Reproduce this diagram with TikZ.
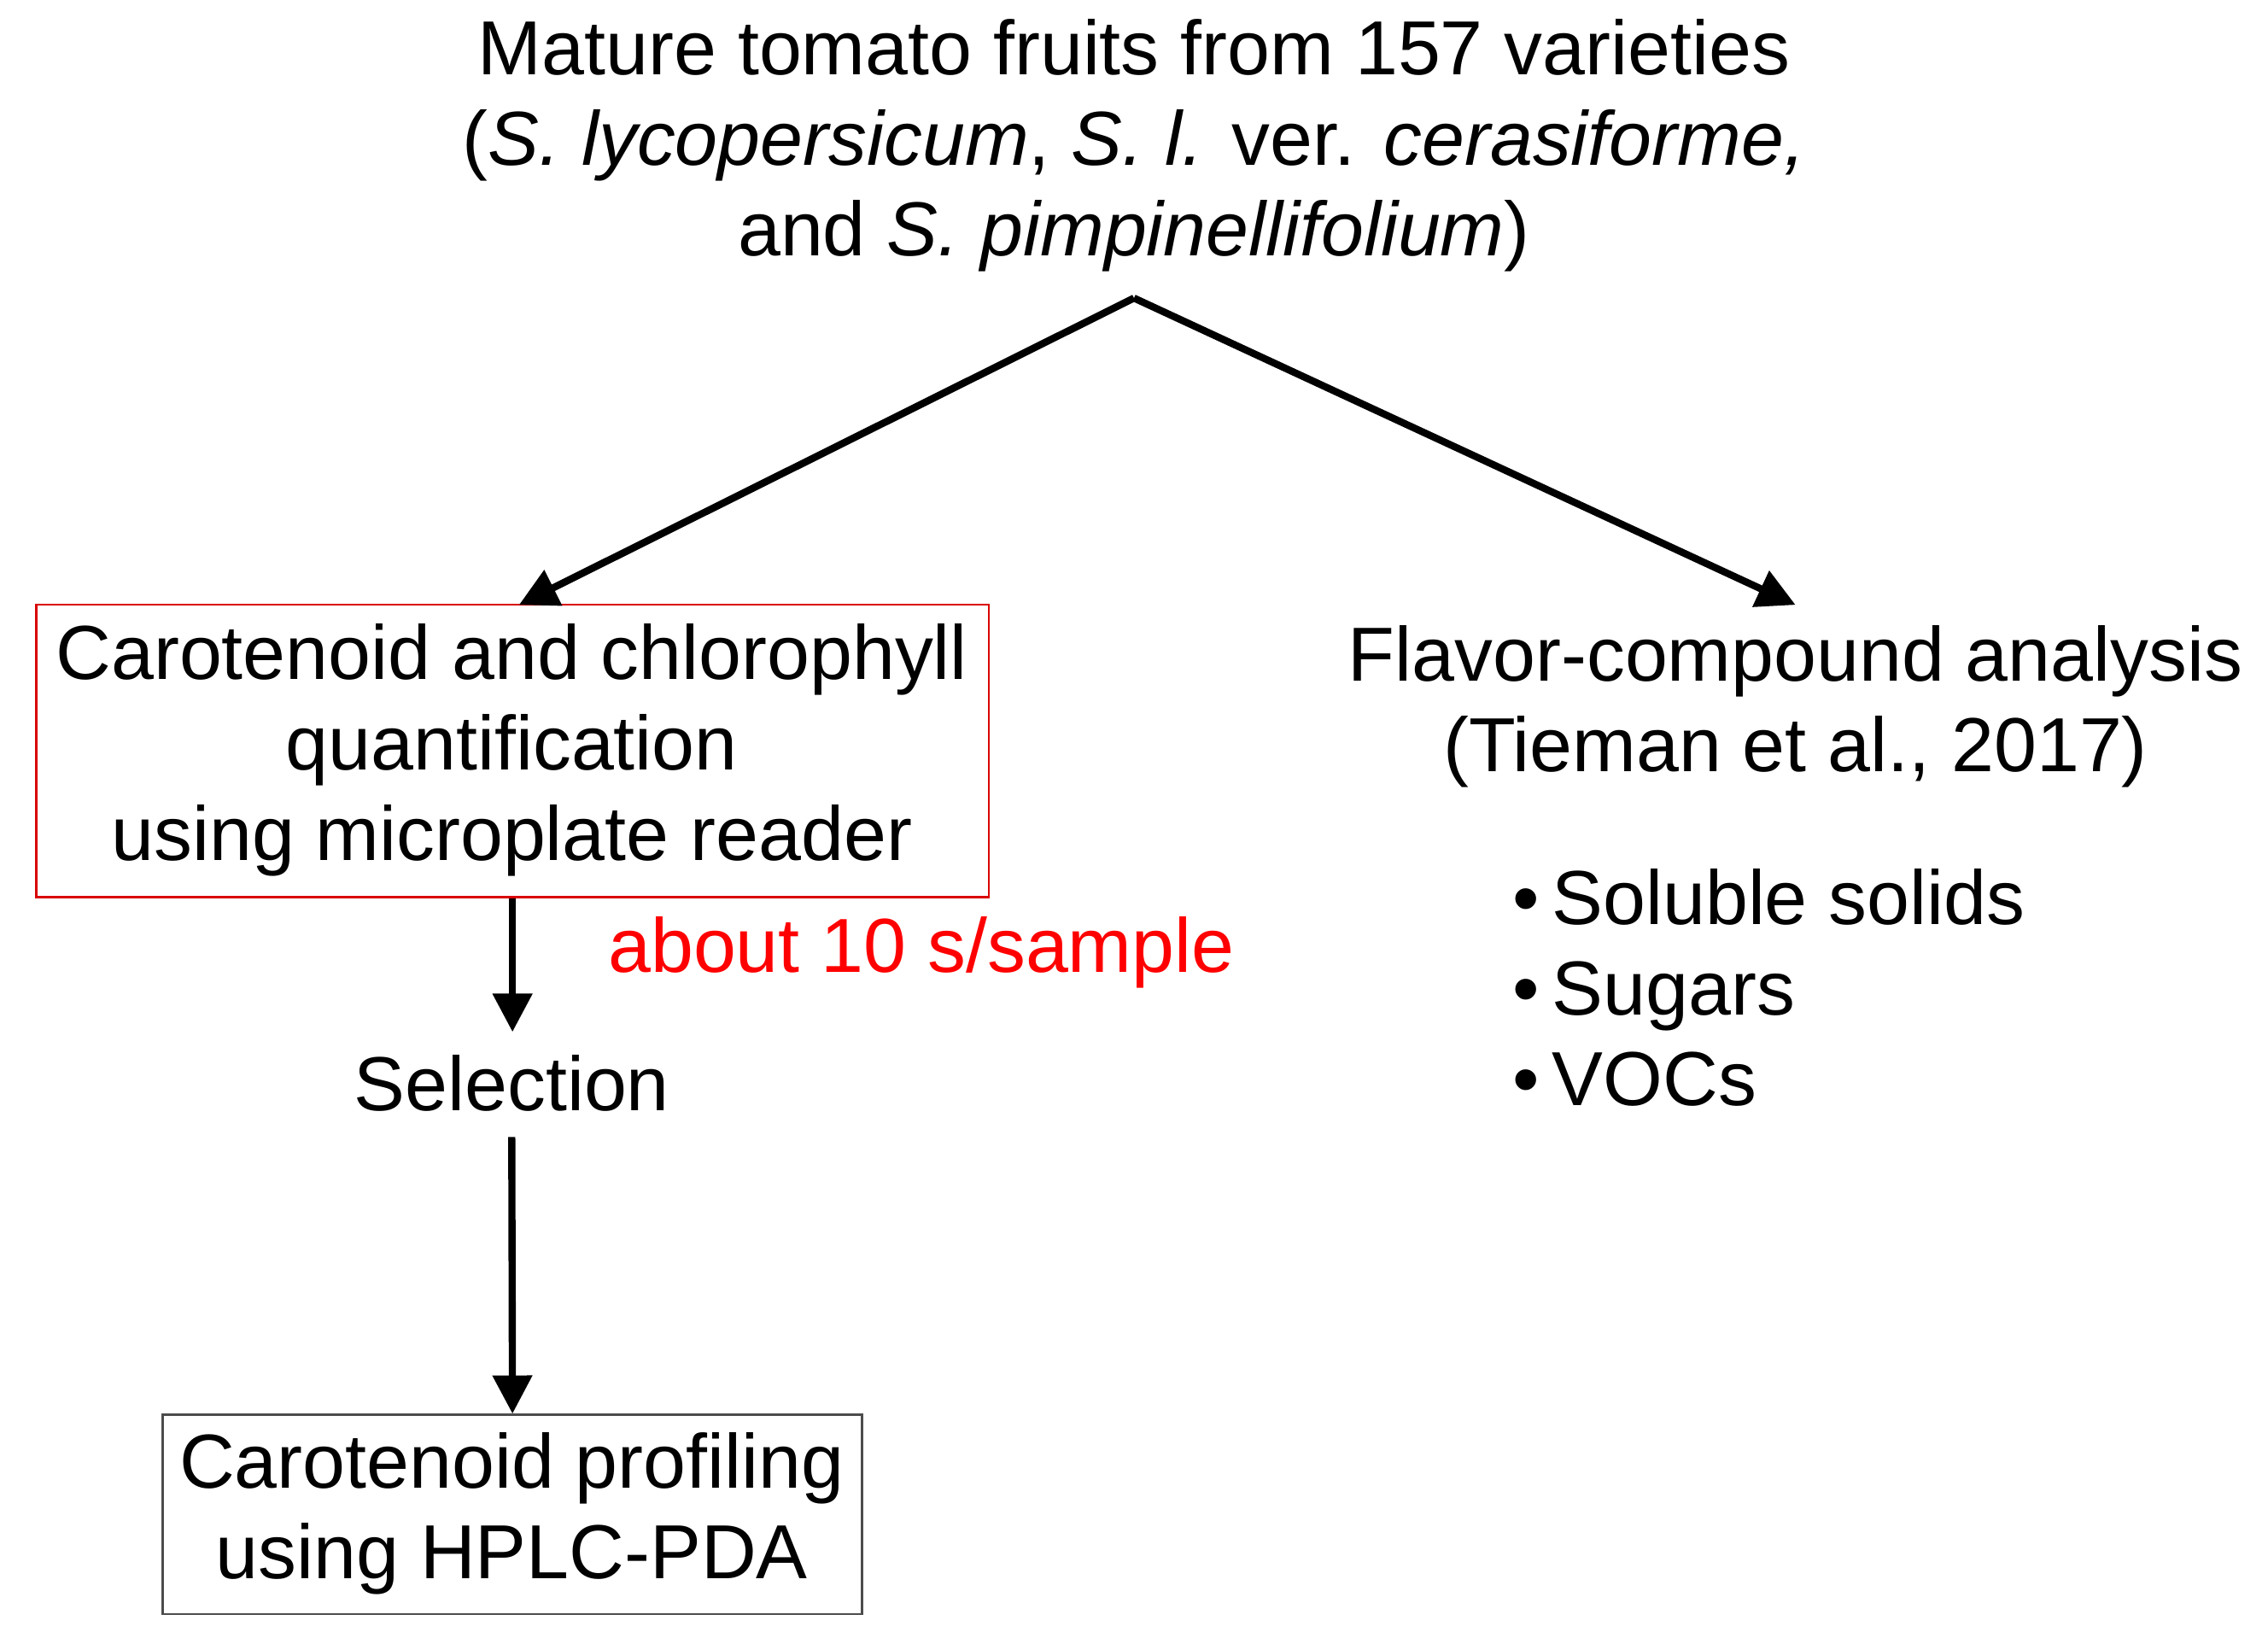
\documentclass[tikz,border=0pt]{standalone}
\usepackage{fontspec}
\setmainfont{Liberation Sans}
\usetikzlibrary{arrows.meta}
\begin{document}
\begin{tikzpicture}[x=0.02cm,y=-0.02cm,
  txt/.style={font=\fontsize{30}{35.4}\selectfont,align=center,inner sep=0pt},
  arr/.style={line width=2.8pt,-{Triangle[length=15pt,width=15pt]}},
  redbox/.style={draw=red!85!black,line width=0.8pt,minimum width=655*0.02cm,minimum height=201*0.02cm},
  graybox/.style={draw=black!70,line width=0.8pt,minimum width=481*0.02cm,minimum height=137*0.02cm}]
\useasboundingbox (0,0) rectangle (1560,1126);
\node[txt] (title) at (780,100) {Mature tomato fruits from 157 varieties\\(\textit{S. lycopersicum}, \textit{S. l.} ver. \textit{cerasiforme,}\\and \textit{S. pimpinellifolium})};
\coordinate (apex) at (780,205);
\node[redbox] (box1) at (352.5,516.5) {};
\node[txt] (t1) at (352,516) {Carotenoid and chlorophyll\\quantification\\using microplate reader};
\node[txt] (flav) at (1235,486) {Flavor-compound analysis\\(Tieman et al., 2017)};
\node[txt,align=left,anchor=west] (bul) at (1040,679) {\textbullet\,Soluble solids\\\textbullet\,Sugars\\\textbullet\,VOCs};
\node[txt,text=red,anchor=west] (time) at (418,655) {about 10 s/sample};
\node[txt] (sel) at (352,745) {Selection};
\node[graybox] (box2) at (352.5,1041.5) {};
\node[txt] (t2) at (352,1041) {Carotenoid profiling\\using HPLC-PDA};
\coordinate (lt) at (357,416);
\coordinate (rt) at (1235,416);
\draw[arr] (apex) -- (lt);
\draw[arr] (apex) -- (rt);
\draw[arr] (box1.south) -- ++(0,92);
\draw[arr] (352,782) -- (box2.north);
\end{tikzpicture}
\end{document}
